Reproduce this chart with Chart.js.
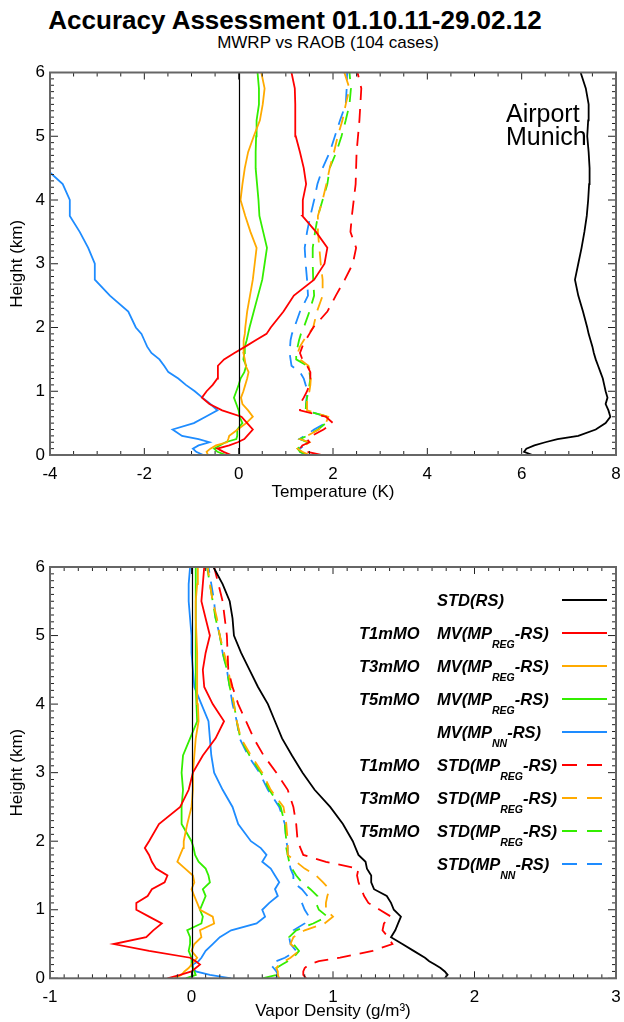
<!DOCTYPE html>
<html>
<head>
<meta charset="utf-8">
<script src="https://cdn.jsdelivr.net/npm/chart.js@4.4.1/dist/chart.umd.min.js"></script>
<style>
  body { margin: 0; background: #fff; width: 624px; height: 1022px; position: relative; overflow: hidden;
         font-family: 'Liberation Sans', Arial, sans-serif; color: #000; }
  #title { position: absolute; left: 0; width: 590px; top: 7px; text-align: center; font-weight: bold; font-size: 26px; line-height: 1; }
  #subtitle { position: absolute; left: 128px; width: 400px; top: 34px; text-align: center; font-size: 17px; line-height: 1; }
  canvas { position: absolute; left: 0; }
  #tempChart { top: 60px; }
  #vapChart { top: 540px; }
</style>
</head>
<body>
<div id="title">Accuracy Assessment 01.10.11-29.02.12</div>
<div id="subtitle">MWRP vs RAOB (104 cases)</div>
<canvas id="tempChart" width="624" height="460" style="width:624px;height:460px"></canvas>
<canvas id="vapChart" width="624" height="482" style="width:624px;height:482px"></canvas>
<script>
// height levels (km), shared by every profile
const heights = [0, 0.05, 0.1, 0.15, 0.2, 0.25, 0.3, 0.4, 0.5, 0.6,
  0.7, 0.8, 0.9, 1.0, 1.1, 1.2, 1.3, 1.4, 1.5, 1.6,
  1.7, 1.8, 1.9, 2.0, 2.25, 2.5, 2.75, 3.0, 3.25, 3.5,
  3.75, 4.0, 4.25, 4.5, 4.75, 5.0, 5.25, 5.5, 5.75, 6.0];

// ---- Temperature (K) ----
const tStdRS = [6.23, 6.05, 6.1, 6.27, 6.5, 6.76, 7.2, 7.57, 7.78, 7.88,
  7.84, 7.78, 7.82, 7.78, 7.75, 7.72, 7.67, 7.62, 7.57, 7.53,
  7.5, 7.46, 7.42, 7.39, 7.3, 7.2, 7.13, 7.2, 7.27, 7.33,
  7.38, 7.41, 7.43, 7.44, 7.42, 7.39, 7.41, 7.42, 7.36, 7.25];
const tMvT1 = [-0.16, -0.32, -0.45, -0.2, -0.02, 0.12, 0.18, 0.3, 0.18, 0.06,
  -0.35, -0.62, -0.78, -0.68, -0.55, -0.45, -0.44, -0.44, -0.31, -0.09,
  0.14, 0.36, 0.59, 0.68, 0.95, 1.17, 1.6, 1.82, 1.88, 1.64,
  1.35, 1.36, 1.43, 1.38, 1.3, 1.21, 1.2, 1.2, 1.19, 1.12];
const tMvT3 = [-0.65, -0.68, -0.6, -0.48, -0.25, -0.22, -0.2, -0.02, 0.16, 0.3,
  0.2, 0.08, 0.05, 0.1, 0.14, 0.18, 0.21, 0.15, 0.13, 0.1,
  0.1, 0.11, 0.13, 0.14, 0.18, 0.24, 0.3, 0.34, 0.38, 0.25,
  0.14, 0.04, 0.08, 0.13, 0.2, 0.32, 0.45, 0.51, 0.55, 0.48];
const tMvT5 = [-0.27, -0.45, -0.52, -0.4, -0.28, -0.05, -0.03, -0.03, 0.08, 0.02,
  0.0, -0.05, -0.1, -0.05, 0.0, 0.04, 0.12, 0.16, 0.1, 0.12,
  0.13, 0.17, 0.2, 0.23, 0.32, 0.41, 0.5, 0.55, 0.6, 0.52,
  0.44, 0.42, 0.39, 0.36, 0.36, 0.37, 0.38, 0.43, 0.43, 0.4];
const tMvNN = [-0.75, -0.9, -0.97, -0.85, -0.62, -0.85, -1.2, -1.4, -0.95, -0.7,
  -0.45, -0.6, -0.77, -0.93, -1.12, -1.28, -1.49, -1.58, -1.68, -1.85,
  -1.94, -2.0, -2.06, -2.18, -2.34, -2.73, -3.05, -3.05, -3.19, -3.37,
  -3.58, -3.58, -3.73, -4.1, null, null, null, null, null, null];
const tStdT1 = [1.75, 1.45, 1.3, 1.35, 1.5, 1.45, 1.55, 1.8, 2.0, 1.85,
  1.3, 1.3, 1.38, 1.45, 1.5, 1.52, 1.52, 1.45, 1.35, 1.3,
  1.35, 1.42, 1.5, 1.58, 1.88, 2.06, 2.25, 2.42, 2.49, 2.37,
  2.4, 2.44, 2.48, 2.49, 2.5, 2.53, 2.56, 2.58, 2.6, 2.52];
const tStdT3 = [1.5, 1.35, 1.25, 1.4, 1.5, 1.3, 1.45, 1.7, 1.85, 1.9,
  1.45, 1.45, 1.45, 1.5, 1.52, 1.53, 1.52, 1.48, 1.3, 1.25,
  1.3, 1.38, 1.48, 1.58, 1.66, 1.78, 1.78, 1.74, 1.71, 1.68,
  1.68, 1.78, 1.86, 1.93, 2.02, 2.1, 2.2, 2.27, 2.35, 2.24];
const tStdT5 = [1.45, 1.3, 1.25, 1.35, 1.45, 1.3, 1.45, 1.68, 1.85, 1.88,
  1.42, 1.43, 1.45, 1.48, 1.5, 1.52, 1.5, 1.45, 1.22, 1.22,
  1.25, 1.28, 1.32, 1.38, 1.5, 1.6, 1.58, 1.57, 1.57, 1.62,
  1.68, 1.78, 1.88, 1.93, 2.07, 2.18, 2.27, 2.35, 2.38, 2.35];
const tStdNN = [1.43, 1.3, 1.29, 1.4, 1.5, 1.29, 1.4, 1.6, 1.84, 1.86,
  1.43, 1.43, 1.44, 1.47, 1.42, 1.38, 1.3, 1.12, 1.1, 1.08,
  1.09, 1.1, 1.13, 1.18, 1.3, 1.47, 1.45, 1.42, 1.4, 1.45,
  1.52, 1.6, 1.67, 1.78, 1.93, 2.04, 2.15, 2.27, 2.29, 2.3];

// ---- Vapor density (g/m3) ----
const vStdRS = [1.79, 1.81, 1.79, 1.76, 1.72, 1.68, 1.65, 1.57, 1.49, 1.41,
  1.44, 1.46, 1.48, 1.43, 1.41, 1.38, 1.29, 1.27, 1.27, 1.24,
  1.23, 1.18, 1.16, 1.14, 1.07, 0.98, 0.87, 0.785, 0.71, 0.64,
  0.59, 0.54, 0.47, 0.41, 0.35, 0.3, 0.29, 0.27, 0.22, 0.155];
const vMvT1 = [-0.17, -0.08, 0.0, 0.03, 0.06, 0.03, -0.01, -0.3, -0.55, -0.32,
  -0.27, -0.21, -0.3, -0.39, -0.39, -0.31, -0.28, -0.19, -0.17, -0.25,
  -0.28, -0.3, -0.33, -0.3, -0.23, -0.08, -0.02, 0.01, 0.08, 0.17,
  0.23, 0.15, 0.09, 0.08, 0.1, 0.13, 0.1, 0.07, 0.08, 0.09];
const vMvT3 = [-0.12, -0.07, -0.05, -0.02, 0.0, 0.02, 0.04, 0.0, 0.02, 0.07,
  0.06, 0.16, 0.15, 0.06, 0.04, 0.02, 0.0, 0.02, 0.01, -0.045,
  -0.1, -0.08, -0.06, -0.055, -0.03, 0.0, 0.01, 0.01, 0.02, 0.03,
  0.05, 0.045, 0.04, 0.04, 0.04, 0.035, 0.03, 0.03, 0.04, 0.045];
const vMvT5 = [-0.04, 0.03, 0.02, 0.01, 0.0, 0.0, 0.0, -0.02, -0.01, -0.01,
  -0.03, 0.07, 0.08, 0.06, 0.08, 0.1, 0.08, 0.13, 0.12, 0.1,
  0.05, 0.025, 0.015, 0.0, -0.07, -0.07, -0.06, -0.07, -0.06, -0.01,
  0.04, 0.035, 0.03, 0.03, 0.03, 0.03, 0.03, 0.03, 0.03, 0.03];
const vMvNN = [0.28, 0.13, 0.03, 0.01, 0.01, 0.05, 0.07, 0.1, 0.15, 0.2,
  0.28, 0.46, 0.52, 0.5, 0.55, 0.61, 0.59, 0.62, 0.59, 0.56,
  0.5, 0.53, 0.49, 0.42, 0.33, 0.29, 0.22, 0.16, 0.14, 0.13,
  0.12, 0.07, 0.02, 0.01, 0.0, 0.0, -0.01, -0.02, -0.02, -0.01];
const vStdT1 = [0.81, 0.79, 0.79, 0.8, 0.83, 0.9, 1.05, 1.28, 1.42, 1.39,
  1.35, 1.36, 1.41, 1.33, 1.25, 1.22, 1.2, 1.18, 1.17, 1.18,
  0.95, 0.79, 0.77, 0.75, 0.74, 0.72, 0.68, 0.6, 0.51, 0.44,
  0.385, 0.33, 0.29, 0.26, 0.255, 0.25, 0.235, 0.22, 0.19, 0.16];
const vStdT3 = [0.62, 0.61, 0.61, 0.6, 0.62, 0.66, 0.7, 0.76, 0.7, 0.72,
  0.8, 0.94, 1.0, 0.95, 0.95, 0.96, 0.975, 0.93, 0.88, 0.8,
  0.74, 0.68, 0.68, 0.68, 0.67, 0.65, 0.56, 0.5, 0.42, 0.35,
  0.32, 0.3, 0.28, 0.26, 0.23, 0.2, 0.18, 0.15, 0.13, 0.115];
const vStdT5 = [0.5, 0.6, 0.62, 0.6, 0.64, 0.68, 0.72, 0.76, 0.72, 0.69,
  0.74, 0.86, 0.96, 0.9, 0.88, 0.89, 0.84, 0.78, 0.74, 0.71,
  0.69, 0.68, 0.67, 0.67, 0.66, 0.63, 0.55, 0.49, 0.41, 0.345,
  0.32, 0.3, 0.27, 0.25, 0.22, 0.2, 0.17, 0.15, 0.13, 0.11];
const vStdNN = [0.6, 0.61, 0.6, 0.58, 0.56, 0.6, 0.66, 0.74, 0.7, 0.69,
  0.72, 0.8, 0.83, 0.8, 0.78, 0.82, 0.78, 0.72, 0.72, 0.7,
  0.69, 0.68, 0.68, 0.67, 0.66, 0.62, 0.54, 0.48, 0.4, 0.34,
  0.32, 0.29, 0.27, 0.25, 0.22, 0.2, 0.17, 0.16, 0.14, 0.12];

const RED = '#ff0000', ORANGE = '#ffaa00', GREEN = '#33ee00', BLUE = '#1e8cff', BLACK = '#000000';
const FONT = "'Liberation Sans', Arial, sans-serif";
const axisFont = { family: FONT, size: 17, lineHeight: 1.2 };

function series(vals) {
  return heights.map((h, i) => vals[i] === null ? null : { x: vals[i], y: h }).filter(p => p);
}
function ds(label, prefix, vals, color, dashed) {
  return {
    label: label, prefix: prefix, data: series(vals),
    borderColor: color, backgroundColor: color, borderWidth: 1.8,
    borderDash: dashed ? [14, 9] : [], pointRadius: 0, showLine: true,
    tension: 0, clip: 0
  };
}

// frame, inward ticks on all four sides, and the zero line
const idlFrame = {
  id: 'idlFrame',
  afterDatasetsDraw(chart, args, o) {
    const { ctx, chartArea: a, scales: { x, y } } = chart;
    const marks = (scale, minor, major) => {
      const out = [];
      const n = Math.round((scale.max - scale.min) / minor);
      for (let i = 0; i <= n; i++) {
        const v = scale.min + i * minor;
        const r = v / major;
        out.push({ p: scale.getPixelForValue(v), major: Math.abs(r - Math.round(r)) < 1e-6 });
      }
      return out;
    };
    ctx.save();
    const x0 = Math.round(x.getPixelForValue(0)) + 0.5;
    ctx.strokeStyle = '#000';
    ctx.lineWidth = 1.2;
    ctx.beginPath();
    ctx.moveTo(x0, a.top);
    ctx.lineTo(x0, a.bottom);
    ctx.stroke();

    ctx.strokeStyle = '#222';
    ctx.lineWidth = 1;
    ctx.beginPath();
    marks(x, o.xMinor, o.xMajor).forEach(m => {
      const len = m.major ? 7 : 4;
      ctx.moveTo(m.p, a.bottom); ctx.lineTo(m.p, a.bottom - len);
      ctx.moveTo(m.p, a.top); ctx.lineTo(m.p, a.top + len);
    });
    marks(y, 0.1, 1).forEach(m => {
      const len = m.major ? 8 : 4;
      ctx.moveTo(a.left, m.p); ctx.lineTo(a.left + len, m.p);
      ctx.moveTo(a.right, m.p); ctx.lineTo(a.right - len, m.p);
    });
    ctx.stroke();

    ctx.strokeStyle = '#666';
    ctx.lineWidth = 2;
    ctx.strokeRect(a.left, a.top, a.right - a.left, a.bottom - a.top);
    ctx.restore();
  }
};

// site label in the temperature panel
const siteLabel = {
  id: 'siteLabel',
  afterDraw(chart) {
    const ctx = chart.ctx;
    ctx.save();
    ctx.fillStyle = '#000';
    ctx.font = '25px ' + FONT;
    ctx.textBaseline = 'alphabetic';
    ctx.fillText('Airport', 506, 62);
    ctx.fillText('Munich', 506, 85);
    ctx.restore();
  }
};

// legend with subscripts, drawn inside the vapour panel
const sideLegend = {
  id: 'sideLegend',
  afterDraw(chart) {
    const ctx = chart.ctx;
    const bigFont = 'italic bold 16.5px ' + FONT;
    const subFont = 'italic bold 10.5px ' + FONT;
    ctx.save();
    ctx.fillStyle = '#000';
    ctx.textBaseline = 'alphabetic';
    chart.data.datasets.forEach((d, i) => {
      const yc = 60 + 33 * i;
      const base = yc + 6;
      ctx.font = bigFont;
      if (d.prefix) ctx.fillText(d.prefix, 359, base);
      const m = d.label.match(/^(.*?)_([A-Z]+)(.*)$/);
      let xx = 437;
      if (m) {
        ctx.fillText(m[1], xx, base);
        xx += ctx.measureText(m[1]).width;
        ctx.font = subFont;
        ctx.fillText(m[2], xx, base + 9);
        xx += ctx.measureText(m[2]).width;
        ctx.font = bigFont;
        ctx.fillText(m[3], xx, base);
      } else {
        ctx.fillText(d.label, xx, base);
      }
      ctx.strokeStyle = d.borderColor;
      ctx.lineWidth = 2;
      ctx.setLineDash(d.borderDash.length ? [15, 10] : []);
      ctx.beginPath();
      ctx.moveTo(562, yc);
      ctx.lineTo(607, yc);
      ctx.stroke();
    });
    ctx.restore();
  }
};

function panelOptions(xMin, xMax, xStep, xMinor, xTitle, padTop, xAxisHeight, labelPad, titlePad) {
  return {
    responsive: false,
    animation: false,
    devicePixelRatio: 1,
    layout: { padding: { top: padTop, right: 8, left: 0, bottom: 0 } },
    plugins: {
      legend: { display: false },
      tooltip: { enabled: false },
      idlFrame: { xMinor: xMinor, xMajor: xStep }
    },
    scales: {
      x: {
        type: 'linear', min: xMin, max: xMax,
        ticks: { stepSize: xStep, autoSkip: false, maxRotation: 0, padding: labelPad, color: '#000', font: axisFont },
        grid: { display: false, drawTicks: false },
        border: { display: false },
        title: { display: true, text: xTitle, color: '#000', font: axisFont, padding: { top: 0, bottom: titlePad } },
        afterFit: s => { s.height = xAxisHeight; s.paddingLeft = 0; s.paddingRight = 0; }
      },
      y: {
        type: 'linear', min: 0, max: 6,
        ticks: { stepSize: 1, autoSkip: false, padding: 5, color: '#000', font: axisFont },
        grid: { display: false, drawTicks: false },
        border: { display: false },
        title: { display: true, text: 'Height (km)', color: '#000', font: axisFont, padding: { top: 6.8, bottom: 0 } },
        afterFit: s => { s.width = 50; s.paddingTop = 0; s.paddingBottom = 0; }
      }
    }
  };
}

new Chart(document.getElementById('tempChart'), {
  type: 'scatter',
  data: {
    datasets: [
      ds('STD(RS)', '', tStdRS, BLACK, false),
      ds('MV(MP_REG-RS)', 'T1mMO', tMvT1, RED, false),
      ds('MV(MP_REG-RS)', 'T3mMO', tMvT3, ORANGE, false),
      ds('MV(MP_REG-RS)', 'T5mMO', tMvT5, GREEN, false),
      ds('MV(MP_NN-RS)', '', tMvNN, BLUE, false),
      ds('STD(MP_REG-RS)', 'T1mMO', tStdT1, RED, true),
      ds('STD(MP_REG-RS)', 'T3mMO', tStdT3, ORANGE, true),
      ds('STD(MP_REG-RS)', 'T5mMO', tStdT5, GREEN, true),
      ds('STD(MP_NN-RS)', '', tStdNN, BLUE, true)
    ]
  },
  options: panelOptions(-4, 8, 2, 0.5, 'Temperature (K)', 12.5, 65, 8.8, 17.8),
  plugins: [idlFrame, siteLabel]
});

new Chart(document.getElementById('vapChart'), {
  type: 'scatter',
  data: {
    datasets: [
      ds('STD(RS)', '', vStdRS, BLACK, false),
      ds('MV(MP_REG-RS)', 'T1mMO', vMvT1, RED, false),
      ds('MV(MP_REG-RS)', 'T3mMO', vMvT3, ORANGE, false),
      ds('MV(MP_REG-RS)', 'T5mMO', vMvT5, GREEN, false),
      ds('MV(MP_NN-RS)', '', vMvNN, BLUE, false),
      ds('STD(MP_REG-RS)', 'T1mMO', vStdT1, RED, true),
      ds('STD(MP_REG-RS)', 'T3mMO', vStdT3, ORANGE, true),
      ds('STD(MP_REG-RS)', 'T5mMO', vStdT5, GREEN, true),
      ds('STD(MP_NN-RS)', '', vStdNN, BLUE, true)
    ]
  },
  options: panelOptions(-1, 3, 1, 0.1, 'Vapor Density (g/m³)', 27, 43.7, 8.5, 0),
  plugins: [idlFrame, sideLegend]
});
</script>
</body>
</html>
